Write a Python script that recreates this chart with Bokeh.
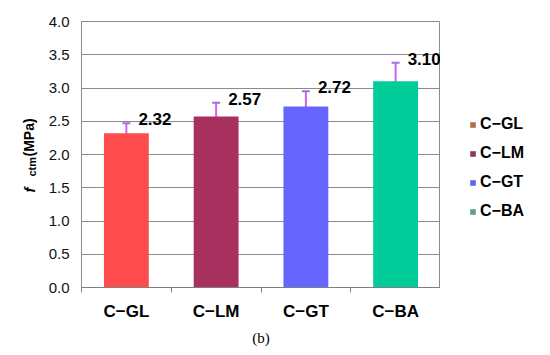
import math
from bokeh.plotting import figure
from bokeh.layouts import row
from bokeh.models import (ColumnDataSource, Range1d, FixedTicker, PrintfTickFormatter,
                          Whisker, TeeHead, Legend, LegendItem, Label, Title)
from bokeh.core.properties import value
from bokeh.embed import file_html
from bokeh.resources import INLINE

# ---- data ----
categories = ["C−GL", "C−LM", "C−GT", "C−BA"]
strength = [2.32, 2.57, 2.72, 3.10]
err_upper = [2.47, 2.78, 2.95, 3.38]
err_lower = [2.18, 2.39, 2.50, 2.83]
value_labels = ["2.32", "2.57", "2.72", "3.10"]
bar_colors = ["#FF4D4D", "#A8305E", "#6666FF", "#00CC99"]
legend_colors = ["#B07048", "#8A3D60", "#6262F2", "#5E9E90"]
y_ticks = [0.0, 0.5, 1.0, 1.5, 2.0, 2.5, 3.0, 3.5, 4.0]

xpos = [i + 0.5 for i in range(len(categories))]
src = ColumnDataSource(dict(x=xpos, top=strength, upper=err_upper, lower=err_lower,
                            lab=value_labels, color=bar_colors))

FH = 266   # frame height shared by all three panels
TOP, BOT = 21, 52


def blank(width):
    f = figure(frame_width=width, frame_height=FH, output_backend="svg", toolbar_location=None,
               x_range=Range1d(0, width), y_range=Range1d(0, FH),
               x_axis_location=None, y_axis_location=None,
               min_border=0, min_border_left=0, min_border_right=0,
               min_border_top=TOP, min_border_bottom=BOT)
    f.outline_line_color = None
    f.grid.grid_line_color = None
    return f


# ---- left strip: y-axis title (coordinates relative to the shared frame) ----
lf = blank(40)
lab_kw = dict(x_units="screen", y_units="screen", angle=math.pi / 2,
              text_align="left", text_baseline="alphabetic", text_color="black",
              text_font="Liberation Sans")
lf.add_layout(Label(x=29, y=95, text="f", text_font_style="bold italic",
                    text_font_size="15px", **lab_kw))
lf.add_layout(Label(x=31.5, y=111, text="ctm", text_font_style="bold",
                    text_font_size="11px", **lab_kw))
lf.add_layout(Label(x=28.5, y=131, text="(MPa)", text_font_style="bold",
                    text_font_size="14px", **lab_kw))

# ---- main chart ----
p = figure(frame_width=359, frame_height=FH, output_backend="svg", toolbar_location=None,
           x_range=Range1d(0, len(categories)), y_range=Range1d(0, 4),
           min_border_left=41, min_border_right=0, min_border_top=TOP, min_border_bottom=BOT)
p.background_fill_color = "white"
p.border_fill_color = "white"
p.outline_line_color = "#8C8C8C"
p.outline_line_width = 1

p.vbar(x="x", top="top", width=0.5, fill_color="color", line_color=None, source=src)

w = Whisker(base="x", upper="upper", lower="lower", source=src,
            line_color="#CC66EE", line_width=2,
            upper_head=TeeHead(size=8, line_color="#A070E0", line_width=2),
            lower_head=TeeHead(size=8, line_color="#A070E0", line_width=2))
p.add_layout(w)

p.text(x="x", y="upper", text="lab", source=src, x_offset=12, y_offset=2,
       text_font=value("Liberation Sans"), text_font_style="bold",
       text_font_size="17px", text_baseline="bottom", text_align="left", text_color="black")

p.xgrid.grid_line_color = None
p.ygrid.grid_line_color = "#8C8C8C"
p.ygrid.grid_line_width = 1
p.yaxis.ticker = FixedTicker(ticks=y_ticks)
p.yaxis.formatter = PrintfTickFormatter(format="%.1f")
p.yaxis.axis_line_color = "#8C8C8C"
p.yaxis.major_tick_line_color = None
p.yaxis.minor_tick_line_color = None
p.yaxis.major_tick_out = 0
p.yaxis.major_label_standoff = 12
p.yaxis.major_label_text_font = "Liberation Sans"
p.yaxis.major_label_text_font_size = "15px"
p.yaxis.major_label_text_color = "#111111"

p.xaxis.ticker = FixedTicker(ticks=xpos, minor_ticks=[float(i) for i in range(len(categories) + 1)])
p.xaxis.major_label_overrides = {x: c for x, c in zip(xpos, categories)}
p.xaxis.axis_line_color = "#7F7F7F"
p.xaxis.major_tick_line_color = None
p.xaxis.major_tick_out = 0
p.xaxis.minor_tick_line_color = "#7F7F7F"
p.xaxis.minor_tick_out = 5
p.xaxis.minor_tick_in = 0
p.xaxis.major_label_standoff = 9
p.xaxis.major_label_text_font = "Liberation Sans"
p.xaxis.major_label_text_font_style = "bold"
p.xaxis.major_label_text_font_size = "17px"
p.xaxis.major_label_text_color = "black"

p.add_layout(Title(text="(b)", align="center", offset=11, text_font="Liberation Serif",
                   text_font_size="15px", text_font_style="normal", text_color="black",
                   standoff=8), "below")

# ---- right strip: legend ----
rf = blank(94)
nan = float("nan")
items = []
for cat, col in zip(categories, legend_colors):
    r = rf.vbar(x=[nan], top=[nan], width=1, fill_color=col, line_color=None)
    items.append(LegendItem(label=cat, renderers=[r]))
leg = Legend(items=items, location=(29, 63), margin=0, padding=0,
             border_line_color=None, background_fill_alpha=0,
             glyph_width=7, glyph_height=7, label_standoff=4,
             label_height=26, spacing=3,
             label_text_font="Liberation Sans", label_text_font_style="bold",
             label_text_font_size="16px", label_text_color="black")
rf.add_layout(leg, "center")

layout = row(lf, p, rf, spacing=0)
open("out.html", "w").write(file_html(layout, INLINE))
